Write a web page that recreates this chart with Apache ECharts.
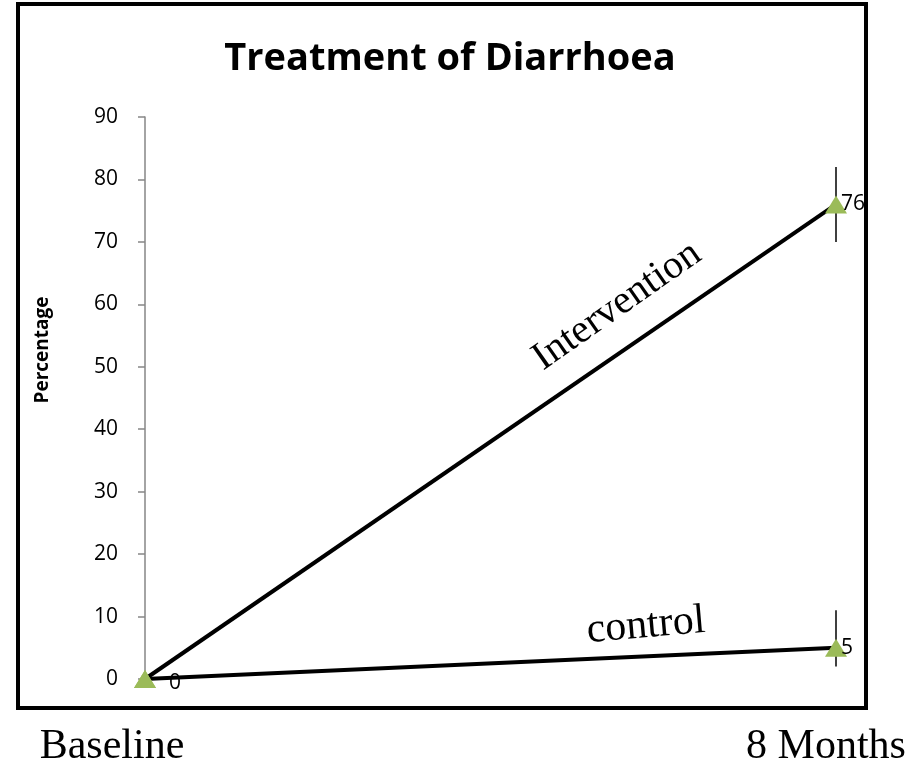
<!DOCTYPE html>
<html><head><meta charset="utf-8">
<script src="https://cdn.jsdelivr.net/npm/echarts@6/dist/echarts.min.js"></script>
<style>html,body{margin:0;padding:0;background:#fff}#c{width:914px;height:765px}</style>
</head><body><div id="c"></div>
<script>
var categories = ['Baseline', '8 Months'];
var intervention = [0, 76];
var control = [0, 5];
var interventionErr = [null, [70, 82]];
var controlErr = [null, [2, 11]];
var yTicks = [0, 10, 20, 30, 40, 50, 60, 70, 80, 90];

var chart = echarts.init(document.getElementById('c'));
function errSeries(name, err) {
  var data = [];
  err.forEach(function (e, i) { if (e) data.push([i, e[0], e[1]]); });
  return {
    type: 'custom', name: name, z: 1,
    renderItem: function (params, api) {
      var lo = api.coord([api.value(0), api.value(1)]);
      var hi = api.coord([api.value(0), api.value(2)]);
      return { type: 'line', shape: { x1: lo[0], y1: lo[1], x2: hi[0], y2: hi[1] },
        style: { stroke: '#000', lineWidth: 1.5 } };
    },
    data: data
  };
}
function lineSeries(name, values, showFirst) {
  var data = values.map(function (v, i) {
    var item = { value: v };
    if (i === 0) item.label = showFirst ? { show: true, offset: [19, 4] } : { show: false };
    return item;
  });
  return {
    type: 'line', name: name, data: data, z: 3,
    lineStyle: { color: '#000', width: 4 },
    itemStyle: { color: '#9BBB59' },
    symbol: 'triangle', symbolSize: [22, 18],
    label: { show: true, position: 'right', distance: -6, color: '#000', fontSize: 21,
      fontFamily: 'Open Sans' },
    animation: false
  };
}
chart.setOption({
  animation: false,
  title: { text: 'Treatment of Diarrhoea', left: 445, top: 35, textAlign: 'center',
    textStyle: { fontFamily: 'Open Sans', fontWeight: 'bold', fontSize: 38, color: '#000' } },
  grid: { left: 145, right: 78, top: 117, bottom: 86, containLabel: false, outerBoundsMode: 'none' },
  xAxis: {
    type: 'category', data: categories, boundaryGap: false,
    axisLine: { show: false }, axisTick: { show: false },
    axisLabel: { margin: 47, color: '#000', fontFamily: 'Liberation Serif', fontSize: 42,
      formatter: function (v, i) { return i === 0 ? '{a|' + v + '}' : '{b|' + v + '}'; },
      rich: { a: { fontFamily: 'Liberation Serif', fontSize: 42, color: '#000', padding: [0, 66, 0, 0] },
              b: { fontFamily: 'Liberation Serif', fontSize: 42, color: '#000', padding: [0, 20, 0, 0] } } }
  },
  yAxis: {
    type: 'value', min: 0, max: 90, interval: 10,
    axisLine: { show: true, lineStyle: { color: '#868686', width: 1.5 } },
    axisTick: { show: true, inside: false, length: 7, lineStyle: { color: '#868686', width: 1.5 } },
    splitLine: { show: false },
    axisLabel: { margin: 27, color: '#000', fontFamily: 'Open Sans', fontSize: 21,
      formatter: function (v) { return yTicks.indexOf(v) >= 0 ? String(v) : ''; } }
  },
  graphic: [
    { type: 'rect', shape: { x: 18, y: 4, width: 848, height: 704 }, z: -1,
      style: { fill: 'none', stroke: '#000', lineWidth: 4 } },
    { type: 'text', x: 43, y: 350, rotation: Math.PI / 2,
      style: { text: 'Percentage', fontFamily: 'Open Sans', fontWeight: 'bold', fontSize: 19, fill: '#000',
        textAlign: 'center', textVerticalAlign: 'middle' } },
    { type: 'text', x: 617, y: 306, rotation: 35 * Math.PI / 180,
      style: { text: 'Intervention', fontFamily: 'Liberation Serif', fontSize: 40, fill: '#000',
        textAlign: 'center', textVerticalAlign: 'middle' } },
    { type: 'text', x: 646, y: 626, rotation: 5 * Math.PI / 180,
      style: { text: 'control', fontFamily: 'Liberation Serif', fontSize: 42, fill: '#000',
        textAlign: 'center', textVerticalAlign: 'middle' } }
  ],
  series: [
    errSeries('Intervention err', interventionErr),
    errSeries('Control err', controlErr),
    lineSeries('Intervention', intervention, false),
    lineSeries('Control', control, true)
  ]
});
</script></body></html>
